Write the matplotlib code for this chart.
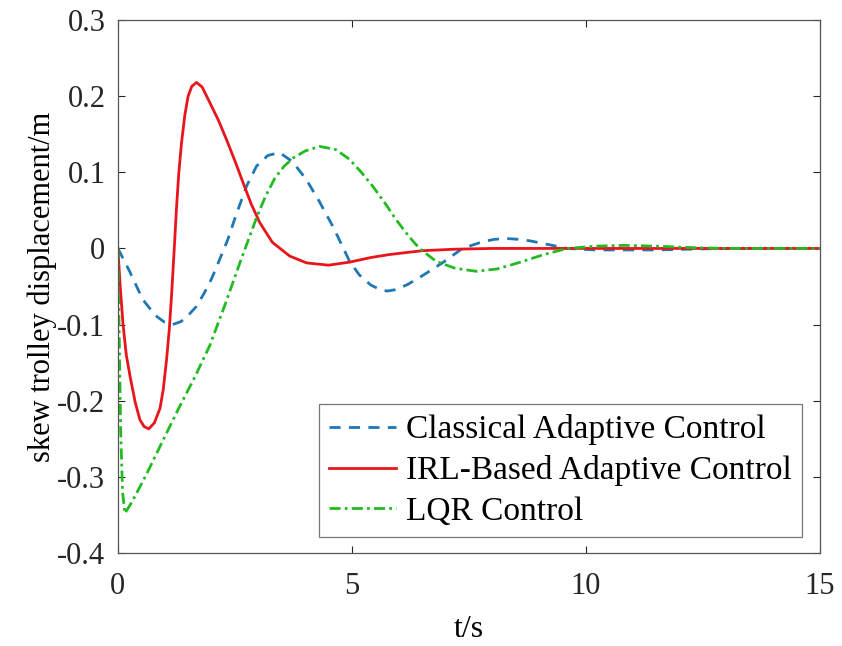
import matplotlib
matplotlib.use('Agg')
import matplotlib.pyplot as plt

classical_t = [0, 0.25, 0.53, 0.8, 1.0, 1.17, 1.35, 1.5, 1.68, 1.85, 2.0, 2.17, 2.35, 2.53,
               2.75, 2.96, 3.2, 3.45, 3.73, 4.03, 4.3, 4.6, 4.95, 5.16, 5.4, 5.6, 5.75, 5.95,
               6.2, 6.5, 6.93, 7.36, 7.8, 8.05, 8.3, 8.55, 8.8, 9.2, 9.6, 10.2, 10.8, 11.5,
               12.2, 13, 15]
classical_y = [0, -0.03, -0.067, -0.088, -0.097, -0.100, -0.096, -0.088, -0.076, -0.058,
               -0.040, -0.015, 0.012, 0.045, 0.082, 0.108, 0.122, 0.126, 0.114, 0.090,
               0.062, 0.028, -0.017, -0.035, -0.048, -0.054, -0.056, -0.054, -0.047,
               -0.036, -0.019, 0, 0.009, 0.012, 0.013, 0.012, 0.010, 0.005, 0, -0.002,
               -0.002, -0.002, -0.001, 0, 0]

irl_t = [0, 0.05, 0.11, 0.18, 0.26, 0.37, 0.47, 0.56, 0.66, 0.78, 0.9, 0.97, 1.04, 1.1,
         1.15, 1.2, 1.25, 1.3, 1.36, 1.43, 1.5, 1.58, 1.68, 1.8, 1.96, 2.15, 2.32, 2.5,
         2.67, 2.85, 3.03, 3.3, 3.67, 4.03, 4.5, 4.95, 5.4, 5.8, 6.5, 7.2, 8, 9, 15]
irl_y = [0, -0.05, -0.1, -0.14, -0.168, -0.202, -0.225, -0.234, -0.237, -0.229, -0.21,
         -0.185, -0.146, -0.105, -0.058, -0.005, 0.051, 0.098, 0.139, 0.175, 0.2, 0.213,
         0.218, 0.212, 0.192, 0.168, 0.143, 0.115, 0.087, 0.058, 0.034, 0.008, -0.01,
         -0.019, -0.022, -0.018, -0.012, -0.008, -0.003, -0.001, 0, 0, 0]

lqr_t = [0, 0.03, 0.06, 0.1, 0.15, 0.3, 0.6, 0.9, 1.3, 1.65, 1.96, 2.3, 2.6, 2.75, 2.96,
         3.15, 3.35, 3.55, 3.75, 4.0, 4.31, 4.65, 4.95, 5.2, 5.44, 5.7, 5.94, 6.2, 6.44,
         6.8, 7.2, 7.65, 8.1, 8.6, 9.1, 9.6, 10.2, 10.8, 11.5, 12.3, 13, 15]
lqr_y = [0, -0.12, -0.24, -0.32, -0.348, -0.333, -0.298, -0.260, -0.210, -0.168, -0.128,
         -0.072, -0.020, 0.005, 0.040, 0.068, 0.092, 0.108, 0.119, 0.128, 0.134, 0.130,
         0.117, 0.100, 0.082, 0.060, 0.038, 0.017, 0, -0.017, -0.026, -0.030, -0.027,
         -0.018, -0.008, 0, 0.003, 0.004, 0.003, 0.001, 0, 0]

xticks = [0, 5, 10, 15]
yticks = [-0.4, -0.3, -0.2, -0.1, 0, 0.1, 0.2, 0.3]
ytick_labels = ['-0.4', '-0.3', '-0.2', '-0.1', '0', '0.1', '0.2', '0.3']

plt.rcParams['font.family'] = ['Liberation Serif', 'DejaVu Serif']

fig = plt.figure(figsize=(8.42, 6.46), dpi=100)
ax = fig.add_axes([0.140, 0.144, 0.834, 0.825])

ax.plot(classical_t, classical_y, color='#1f77b4', ls=(0, (4, 3)), lw=2.0,
        label='Classical Adaptive Control')
ax.plot(irl_t, irl_y, color='#e8161c', ls='-', lw=2.0,
        label='IRL-Based Adaptive Control')
ax.plot(lqr_t, lqr_y, color='#22bb22', ls=(0, (4, 1.5, 1, 1.5)), lw=2.0,
        label='LQR Control')

ax.set_xlim(0, 15)
ax.set_ylim(-0.4, 0.3)
ax.set_xticks(xticks)
ax.set_xticklabels([str(v) for v in xticks])
ax.set_yticks(yticks)
ax.set_yticklabels(ytick_labels)
ax.tick_params(direction='in', top=True, right=True, length=5, width=0.8,
               labelsize=22, colors='#262626')
ax.tick_params(axis='x', pad=14)
ax.tick_params(axis='y', pad=9)
for s in ax.spines.values():
    s.set_color('#555555')
    s.set_linewidth(0.9)

ax.set_xlabel('t/s', fontsize=23, labelpad=10)
ax.set_ylabel('skew trolley displacement/m', fontsize=22, labelpad=0)

leg = ax.legend(loc='lower right', bbox_to_anchor=(0.974, 0.030), borderaxespad=0,
                fontsize=24, frameon=True, fancybox=False, edgecolor='#555555',
                handlelength=2.0, handletextpad=0.3, labelspacing=0.3,
                borderpad=0.3)
leg.get_frame().set_linewidth(0.9)

fig.savefig('out.png', dpi=100, facecolor='white')
